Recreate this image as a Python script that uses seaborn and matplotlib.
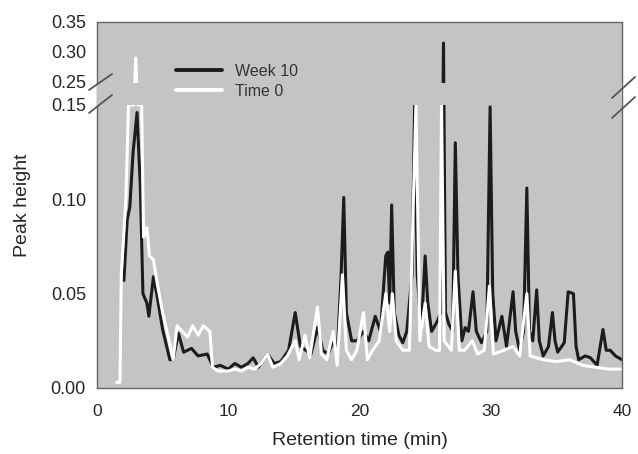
import numpy as np
import pandas as pd
import matplotlib
matplotlib.use("Agg")
import matplotlib.pyplot as plt
import seaborn as sns

# Week 10 chromatogram (retention time in min, peak height)
week10_t = [2.05, 2.3, 2.5, 2.75, 3.05, 3.3, 3.5, 3.8, 3.95, 4.3, 4.55, 5.0, 5.55, 5.8,
            6.2, 6.6, 7.2, 7.7, 8.4, 8.85, 9.4, 10.0, 10.5, 11.0, 11.5, 11.9, 12.3, 13.0,
            13.5, 14.0, 14.6, 15.1, 15.5, 15.9, 16.3, 16.8, 17.2, 17.6, 18.0, 18.3, 18.6,
            18.8, 19.0, 19.4, 19.8, 20.3, 20.7, 21.2, 21.6, 22.0, 22.15, 22.3, 22.45, 22.65,
            23.0, 23.3, 23.6, 24.0, 24.2, 24.4, 24.7, 25.0, 25.2, 25.5, 25.9, 26.2, 26.4,
            26.55, 26.8, 27.1, 27.3, 27.5, 27.8, 28.05, 28.3, 28.65, 28.9, 29.3, 29.7, 29.95,
            30.15, 30.4, 30.85, 31.2, 31.7, 31.9, 32.2, 32.5, 32.75, 32.95, 33.2, 33.5, 33.7,
            34.0, 34.4, 34.7, 34.9, 35.1, 35.6, 35.9, 36.3, 36.5, 36.7, 37.2, 37.6, 38.1,
            38.55, 38.8, 39.1, 39.5, 40.0]
week10_h = [0.057, 0.089, 0.096, 0.125, 0.146, 0.107, 0.050, 0.045, 0.038, 0.059, 0.050,
            0.031, 0.015, 0.015, 0.029, 0.019, 0.021, 0.017, 0.018, 0.011, 0.012, 0.010,
            0.013, 0.011, 0.013, 0.016, 0.011, 0.018, 0.013, 0.014, 0.020, 0.040, 0.022,
            0.020, 0.018, 0.032, 0.020, 0.018, 0.025, 0.018, 0.060, 0.101, 0.040, 0.025,
            0.025, 0.030, 0.025, 0.038, 0.030, 0.070, 0.072, 0.045, 0.097, 0.040, 0.028,
            0.024, 0.030, 0.060, 0.150, 0.060, 0.030, 0.070, 0.045, 0.030, 0.035, 0.040,
            0.315, 0.040, 0.034, 0.030, 0.130, 0.060, 0.025, 0.032, 0.030, 0.051, 0.030,
            0.024, 0.030, 0.149, 0.050, 0.025, 0.038, 0.022, 0.051, 0.030, 0.020, 0.030,
            0.106, 0.030, 0.025, 0.052, 0.025, 0.017, 0.022, 0.040, 0.025, 0.019, 0.024,
            0.051, 0.050, 0.022, 0.015, 0.017, 0.016, 0.012, 0.031, 0.020, 0.020, 0.017,
            0.015]

# Time 0 chromatogram
time0_t = [1.5, 1.75, 1.85, 2.2, 2.4, 2.8, 2.95, 3.1, 3.4, 3.55, 3.8, 4.0, 4.3, 4.6, 5.0,
           5.5, 5.8, 6.1, 6.5, 6.9, 7.3, 7.7, 8.1, 8.6, 8.8, 9.2, 10.0, 10.5, 11.0, 11.5,
           12.0, 12.5, 13.0, 13.4, 14.0, 14.5, 15.1, 15.4, 15.85, 16.2, 16.8, 17.1, 17.5,
           18.0, 18.3, 18.7, 19.0, 19.4, 19.8, 20.3, 20.6, 21.0, 21.5, 22.0, 22.3, 22.5,
           22.8, 23.3, 23.8, 24.3, 24.6, 25.0, 25.3, 25.8, 26.1, 26.25, 26.45, 27.0, 27.3,
           27.6, 28.0, 28.6, 29.0, 29.5, 29.9, 30.2, 31.0, 31.7, 32.2, 32.75, 33.0, 34.0,
           35.0, 36.0, 37.0, 38.0, 39.0, 40.0]
time0_h = [0.003, 0.003, 0.060, 0.100, 0.150, 0.150, 0.290, 0.150, 0.150, 0.080, 0.085,
           0.070, 0.068, 0.055, 0.040, 0.025, 0.015, 0.033, 0.030, 0.027, 0.033, 0.028,
           0.033, 0.030, 0.011, 0.009, 0.009, 0.010, 0.009, 0.011, 0.010, 0.013, 0.018,
           0.011, 0.013, 0.017, 0.025, 0.015, 0.028, 0.016, 0.043, 0.018, 0.015, 0.030,
           0.012, 0.060, 0.020, 0.015, 0.020, 0.040, 0.015, 0.020, 0.025, 0.050, 0.030,
           0.050, 0.025, 0.020, 0.020, 0.150, 0.025, 0.045, 0.022, 0.020, 0.020, 0.150,
           0.025, 0.020, 0.062, 0.020, 0.020, 0.025, 0.018, 0.020, 0.054, 0.018, 0.020,
           0.022, 0.017, 0.050, 0.017, 0.015, 0.014, 0.015, 0.012, 0.011, 0.010, 0.010]

series_names = ["Week 10", "Time 0"]
y_ticks = [0.00, 0.05, 0.10, 0.15, 0.25, 0.30, 0.35]
y_labels = ["0.00", "0.05", "0.10", "0.15", "0.25", "0.30", "0.35"]
x_ticks = [0, 10, 20, 30, 40]

data = pd.concat([
    pd.DataFrame({"time": week10_t, "height": week10_h, "series": "Week 10"}),
    pd.DataFrame({"time": time0_t, "height": time0_h, "series": "Time 0"}),
], ignore_index=True)

# broken y axis: 0-0.15 full scale, 0.15-0.25 squeezed, 0.25-0.35 compressed
brk_in = [-1.0, 0.15, 0.25, 1.0]
brk_out = [-1.0, 0.15, 0.16219, 0.16219 + 0.75 * 0.318]


def fwd(y):
    return np.interp(y, brk_in, brk_out)


def inv(y):
    return np.interp(y, brk_out, brk_in)


sns.set_style("white")
plt.rcParams["font.family"] = ["Liberation Sans", "DejaVu Sans"]

fig = plt.figure(figsize=(6.38, 4.54), dpi=100)
ax = fig.add_axes([97 / 638, 66 / 454, 525 / 638, 366 / 454])
ax.set_facecolor("#c4c4c4")
ax.set_yscale("function", functions=(fwd, inv))

sns.lineplot(data=data, x="time", y="height", hue="series", hue_order=series_names,
             palette={"Week 10": "#1c1c1c", "Time 0": "white"}, sort=False,
             estimator=None, linewidth=2.2, ax=ax)

# hide the squeezed region between the two scales
ax.axhspan(0.152, 0.245, color="#c4c4c4", zorder=3, lw=0)

ax.set_xlim(0, 40)
ax.set_ylim(0, 0.35)
ax.set_xticks(x_ticks)
ax.set_xticklabels([str(v) for v in x_ticks])
ax.set_yticks(y_ticks)
ax.set_yticklabels(y_labels)
ax.tick_params(axis="x", direction="inout", length=7, width=1, color="#555555",
               labelsize=12.5, pad=8)
ax.tick_params(axis="y", direction="out", length=4, width=1, color="#555555",
               labelsize=13, pad=4)
for s in ax.spines.values():
    s.set_color("#666666")
    s.set_linewidth(1.0)

ax.set_xlabel("Retention time (min)", fontsize=14)
ax.set_ylabel("Peak height", fontsize=14)
ax.xaxis.set_label_coords(0.5, -0.12)
ax.yaxis.set_label_coords(-0.125, 0.5)

handles, labels = ax.get_legend_handles_labels()
leg = ax.legend(handles, labels, loc="upper left", bbox_to_anchor=(0.15, 0.885),
                frameon=False, fontsize=11.5, handlelength=2.9, handletextpad=0.8,
                labelspacing=0.3, borderpad=0, borderaxespad=0)
for t in leg.get_texts():
    t.set_color("#333333")
for h in leg.get_lines():
    h.set_linewidth(2.8)

# break marks on both sides of the axis
for (x0, y0, x1, y1) in [(89, 90, 112, 74), (89, 113, 112, 95),
                         (612, 98, 635, 77), (612, 118, 635, 97)]:
    fig.add_artist(plt.Line2D([x0 / 638, x1 / 638], [1 - y0 / 454, 1 - y1 / 454],
                              color="#555555", lw=1.3))

fig.savefig("out.png", dpi=100)
